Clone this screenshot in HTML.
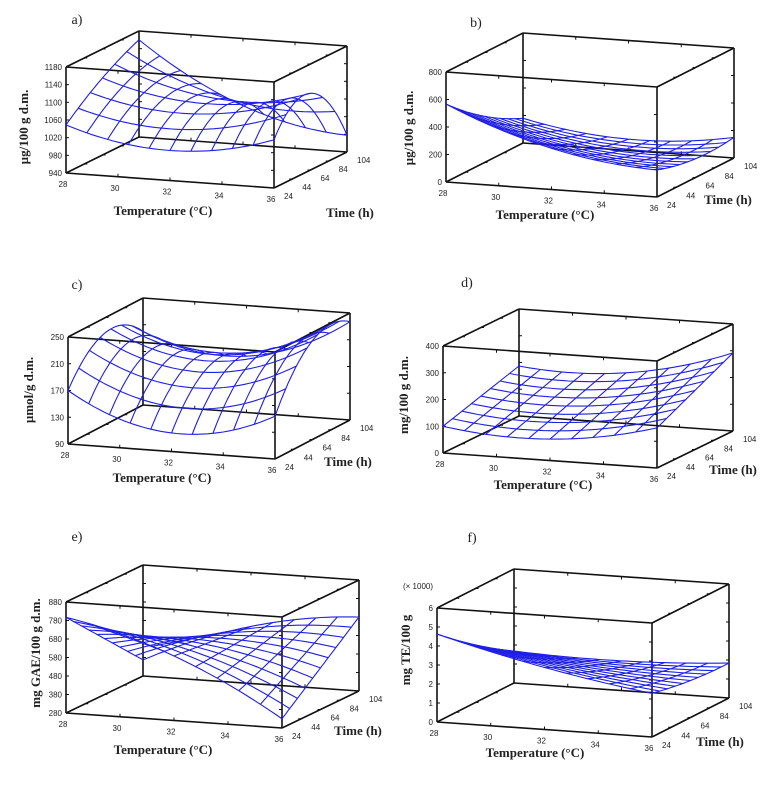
<!DOCTYPE html>
<html><head><meta charset="utf-8">
<style>
html,body{margin:0;padding:0;background:#fff;}
svg{display:block;}
.tk{font-family:"Liberation Sans",sans-serif;font-size:8px;fill:#222;}
.ttl{font-family:"Liberation Serif",serif;font-size:13px;font-weight:bold;fill:#222;}
.lbl{font-family:"Liberation Serif",serif;font-size:14px;fill:#222;}
</style></head>
<body>
<svg id="fig" width="778" height="785" viewBox="0 0 778 785" xmlns="http://www.w3.org/2000/svg"></svg>
<script>
// Axis ranges and tick labels
const tempTicks = [28, 30, 32, 34, 36];
const timeTicks = [24, 44, 64, 84, 104];
const zTicksA = [940, 980, 1020, 1060, 1100, 1140, 1180];
const zTicksB = [0, 200, 400, 600, 800];
const zTicksC = [90, 130, 170, 210, 250];
const zTicksD = [0, 100, 200, 300, 400];
const zTicksE = [280, 380, 480, 580, 680, 780, 880];
const zTicksF = [0, 1, 2, 3, 4, 5, 6];
// Response surface model coefficients: z = c0 + c1 u + c2 u^2 + c3 v + c4 uv + c5 v^2 + c6 u v^2 + c7 u^2 v
const coefA = [1049, -164, 164, 151, 179, -40, -361, 0];
const coefB = [567, -700, 330, -537, 340, 150, 0, 0];
const coefC = [170, -193, 177, 200, 53, -170, 0, 0];
const coefD = [100, -130, 180, 87, 35, 0, 0, 20];
const coefE = [797, -206, -261, -430, 780, 0, 0, 0];
const coefF = [4.63, -3.13, 0.80, -3.45, 2.49, 0.50, 0, 0];

const NS = "http://www.w3.org/2000/svg";
const svg = document.getElementById('fig');

const panels = [
 {id:'a', letter:'a)', O:[66,173], ex:[208,15], ey:[73,-36], ez:[0,-106], zt:zTicksA, coef:coefA, nv:6,
  lab:[77,24], tT:[163,215], tH:[350,217], yT:[28,127], yText:'µg/100 g d.m.'},
 {id:'b', letter:'b)', O:[446,182], ex:[211,15], ey:[77,-39], ez:[0,-110], zt:zTicksB, coef:coefB, nv:10,
  lab:[476,27], tT:[545,219], tH:[728,204], yT:[413,128], yText:'µg/100 g d.m.'},
 {id:'c', letter:'c)', O:[68,444], ex:[207,15], ey:[75,-39], ez:[0,-107], zt:zTicksC, coef:coefC, nv:7,
  lab:[77,289], tT:[162,482], tH:[348,466], yT:[33,390], yText:'µmol/g d.m.'},
 {id:'d', letter:'d)', O:[443,453], ex:[214,15], ey:[76,-37], ez:[0,-107], zt:zTicksD, coef:coefD, nv:8,
  lab:[467,287], tT:[543,489], tH:[733,474], yT:[408,395], yText:'mg/100 g d.m.'},
 {id:'e', letter:'e)', O:[66,713], ex:[216,15], ey:[77,-37], ez:[0,-111], zt:zTicksE, coef:coefE, nv:10,
  lab:[77,541], tT:[163,754], tH:[358,735], yT:[40,653], yText:'mg GAE/100 g d.m.'},
 {id:'f', letter:'f)', O:[437,722], ex:[215,15], ey:[77,-39], ez:[0,-114], zt:zTicksF, coef:coefF, nv:10,
  lab:[472,542], tT:[535,757], tH:[720,746], yT:[410,650], yText:'mg   TE/100   g'}
];

function el(tag, attrs, parent){
  const e = document.createElementNS(NS, tag);
  for (const k in attrs) e.setAttribute(k, attrs[k]);
  parent.appendChild(e);
  return e;
}
function model(c,u,v){
  return c[0]+c[1]*u+c[2]*u*u+c[3]*v+c[4]*u*v+c[5]*v*v+c[6]*u*v*v+c[7]*u*u*v;
}

panels.forEach(p=>{
  const g = el('g',{},svg);
  
  
  const zMin = p.zt[0], zMax = p.zt[p.zt.length-1];
  const tMin = tempTicks[0], tMax = tempTicks[tempTicks.length-1];
  const hMin = timeTicks[0], hMax = timeTicks[timeTicks.length-1];
  const P = (u,v,w)=>[p.O[0]+u*p.ex[0]+v*p.ey[0]+w*p.ez[0], p.O[1]+u*p.ex[1]+v*p.ey[1]+w*p.ez[1]];
  const xs = T=>(T-tMin)/(tMax-tMin);
  const ys = h=>(h-hMin)/(hMax-hMin);
  const zs = z=>(z-zMin)/(zMax-zMin);

  // box edges
  const box = el('g',{stroke:'#111','stroke-width':1.6,fill:'none'},g);
  
  
  const C = [];
  for (let i=0;i<8;i++){ C.push(P(i&1, (i>>1)&1, (i>>2)&1)); }
  const edges = [[0,1],[2,3],[4,5],[6,7],[0,2],[1,3],[4,6],[5,7],[0,4],[1,5],[2,6],[3,7]];
  edges.forEach(([a,b])=>{
    const ln = el('line',{x1:C[a][0],y1:C[a][1],x2:C[b][0],y2:C[b][1]},box);
    
    
  });
  // ticks
  const tg = el('g',{stroke:'#111','stroke-width':1},g);
  p.zt.forEach(z=>{
    [[0,0],[0,1],[1,1],[1,0]].forEach(([u,v])=>{
      const a = P(u,v,zs(z));
      const d = (u===0)? 3 : -3;
      el('line',{x1:a[0],y1:a[1],x2:a[0]+d,y2:a[1]},tg);
    });
  });
  tempTicks.forEach(T=>{
    [0,1].forEach(w=>{ [0,1].forEach(v=>{
      const a = P(xs(T),v,w);
      el('line',{x1:a[0],y1:a[1],x2:a[0],y2:a[1]+(w?3:-3)},tg);
    });});
  });
  timeTicks.forEach(h=>{
    [0,1].forEach(w=>{ [0,1].forEach(u=>{
      const a = P(u,ys(h),w);
      el('line',{x1:a[0],y1:a[1],x2:a[0]+(u?-3:3),y2:a[1]},tg);
    });});
  });

  // surface
  const sg = el('g',{stroke:'#1f1fe6','stroke-width':1.1,fill:'none','stroke-linejoin':'round'},g);
  
  
  const nu = 10, nv = p.nv, S = 40;
  for (let i=0;i<=nu;i++){
    const u=i/nu; let pts=[];
    for (let k=0;k<=S;k++){ const v=k/S; const q=P(u,v,zs(model(p.coef,u,v))); pts.push(q[0].toFixed(1)+','+q[1].toFixed(1)); }
    const pl = el('polyline',{points:pts.join(' ')},sg);
    
    
  }
  for (let j=0;j<=nv;j++){
    const v=j/nv; let pts=[];
    for (let k=0;k<=S;k++){ const u=k/S; const q=P(u,v,zs(model(p.coef,u,v))); pts.push(q[0].toFixed(1)+','+q[1].toFixed(1)); }
    const pl = el('polyline',{points:pts.join(' ')},sg);
    
    
  }

  // tick labels
  p.zt.forEach(z=>{
    const a = P(0,0,zs(z));
    const t = el('text',{x:a[0]-4,y:a[1]+3,'text-anchor':'end',class:'tk'},g);
    t.textContent = z;
    
    
  });
  tempTicks.forEach(T=>{
    const a = P(xs(T),0,0);
    const t = el('text',{x:a[0]-3,y:a[1]+14,'text-anchor':'middle',class:'tk'},g);
    t.textContent = T;
    
    
  });
  timeTicks.forEach(h=>{
    const a = P(1,ys(h),0);
    const t = el('text',{x:a[0]+10,y:a[1]+11,'text-anchor':'start',class:'tk'},g);
    t.textContent = h;
    
    
  });

  // titles
  const lt = el('text',{x:p.lab[0],y:p.lab[1],'text-anchor':'middle',class:'lbl'},g);
  lt.textContent = p.letter;
  
  
  const xt = el('text',{x:p.tT[0],y:p.tT[1],'text-anchor':'middle',class:'ttl'},g);
  xt.textContent = 'Temperature (°C)';
  
  
  const ht = el('text',{x:p.tH[0],y:p.tH[1],'text-anchor':'middle',class:'ttl'},g);
  ht.textContent = 'Time (h)';
  
  
  const yt = el('text',{x:p.yT[0],y:p.yT[1],'text-anchor':'middle',class:'ttl',transform:'rotate(-90 '+p.yT[0]+' '+p.yT[1]+')','xml:space':'preserve'},g);
  yt.textContent = p.yText;
  
  
  if (p.id==='f'){
    const m = el('text',{x:418,y:589,'text-anchor':'middle',class:'tk','font-size':'6'},g);
    m.textContent = '(× 1000)';
    
    
  }
});
</script>
</body></html>
